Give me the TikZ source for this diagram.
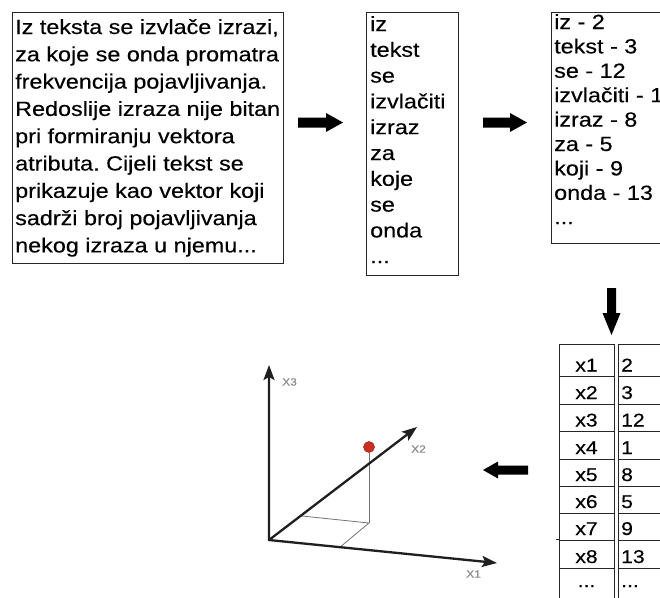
\documentclass[tikz,border=0pt]{standalone}
\usepackage{fontspec}
\setmainfont{Liberation Sans}[FakeStretch=1.14,FakeBold=0.3]
\usetikzlibrary{arrows.meta}
\definecolor{dotred}{RGB}{205,45,35}
\newcommand\tdots{.{}.{}.}
\frenchspacing
\tikzset{
  boxline/.style={draw=black!85, line width=0.9pt, fill=white, inner sep=0pt, anchor=north west},
  txt/.style={anchor=base west, inner sep=0pt, font=\fontsize{20.5}{24}\selectfont},
  celltxt/.style={inner sep=0pt, font=\fontsize{18.5}{20}\selectfont},
  cell/.style={draw=black!85, line width=0.8pt, inner sep=0pt, anchor=north west},
  blockarrow/.style={fill=black},
  axis/.style={line width=2.3pt, draw=black!88, line join=miter},
  axtip/.style={-{Stealth[length=15pt,width=11pt,inset=3pt]}},
  proj/.style={draw=black!55, line width=0.8pt},
  axlabel/.style={anchor=west, inner sep=0pt, text=black!45, font=\fontsize{10.5}{11}\selectfont},
}
\begin{document}
\begin{tikzpicture}[x=1pt,y=-1pt]
\useasboundingbox (0,0) rectangle (660,597);
\fill[white] (0,0) rectangle (660,597);
\clip (0,0) rectangle (660,597);

% box 1
\node[boxline, minimum width=271pt, minimum height=251pt] (b1) at (12,11.5) {};
\foreach \t [count=\i] in {{Iz teksta se izvlače izrazi,},{za koje se onda promatra},{frekvencija pojavljivanja.},{Redoslije izraza nije bitan},{pri formiranju vektora},{atributa. Cijeli tekst se},{prikazuje kao vektor koji},{sadrži broj pojavljivanja},{nekog izraza u njemu\tdots}}
  \node[txt] (t1-\i) at (15,{34+(\i-1)*27.3}) {\t};

% box 2
\node[boxline, minimum width=92pt, minimum height=263pt] (b2) at (366,12) {};
\foreach \t [count=\i] in {iz,tekst,se,izvlačiti,izraz,za,koje,se,onda,\tdots}
  \node[txt] (t2-\i) at (370,{31+(\i-1)*25.8}) {\t};

% box 3
\node[boxline, minimum width=130pt, minimum height=231pt] (b3) at (550.5,12) {};
\foreach \t [count=\i] in {iz - 2,tekst - 3,se - 12,izvlačiti - 1,izraz - 8,za - 5,koji - 9,onda - 13,\tdots}
  \node[txt] (t3-\i) at (554,{29+(\i-1)*24.4}) {\t};

% block arrows
\coordinate (a1) at (298,122.5);
\fill[blockarrow] (a1) ++(0,-5) -- ++(28,0) -- ++(0,-4.5) -- ++(17,9.5) -- ++(-17,9.5) -- ++(0,-4.5) -- ++(-28,0) -- cycle;
\coordinate (a2) at (483,122.5);
\fill[blockarrow] (a2) ++(0,-5) -- ++(27,0) -- ++(0,-4.5) -- ++(17,9.5) -- ++(-17,9.5) -- ++(0,-4.5) -- ++(-27,0) -- cycle;
\coordinate (a3) at (611.5,288);
\fill[blockarrow] (a3) ++(-4.5,0) -- ++(0,25) -- ++(-4.5,0) -- ++(9,22) -- ++(9,-22) -- ++(-4.5,0) -- ++(0,-25) -- cycle;
\coordinate (a4) at (528,470);
\fill[blockarrow] (a4) ++(0,-4.5) -- ++(-30,0) -- ++(0,-4) -- ++(-15,8.5) -- ++(15,8.5) -- ++(0,-4) -- ++(30,0) -- cycle;

% table
\foreach \ta/\tb [count=\i] in {344/376,376/403.5,403.5/431,431/458.5,458.5/485.5,485.5/512.5,512.5/539.5,539.5/567.5,567.5/620}{
  \node[cell, minimum width=55pt, minimum height={(\tb-\ta)*1pt}] (c1-\i) at (559,\ta) {};
  \node[cell, minimum width=62pt, minimum height={(\tb-\ta)*1pt}] (c2-\i) at (618,\ta) {};
}
\foreach \tb/\la/\va [count=\i] in {376/x1/2,403.5/x2/3,431/x3/12,458.5/x4/1,485.5/x5/8,512.5/x6/5,539.5/x7/9,567.5/x8/13,591.5/\tdots/\tdots}{
  \node[celltxt, anchor=base] (l-\i) at (586.5,{\tb-4.5}) {\la};
  \node[celltxt, anchor=base west] (v-\i) at (621,{\tb-4.5}) {\va};
}
\draw[draw=black!85, line width=0.8pt] (556,539.5) -- (c1-8.north west);

% 3D axes
\coordinate (O) at (269,540);
\coordinate (X3t) at (269,365);
\coordinate (X2t) at (417,427);
\coordinate (X1t) at (497,563);
\coordinate (Pf) at (369,523);
\coordinate (A2) at (302,516);
\coordinate (A1) at (339,548);
\draw[proj] (A2) -- (Pf) -- (A1);
\node[circle, fill=dotred, draw=dotred!70!black, line width=0.5pt, minimum size=11pt, inner sep=0pt] (P) at (369,447) {};
\draw[proj] (P) -- (Pf);
\draw[axis, {Stealth[length=15pt,width=11pt,inset=3pt]}-{Stealth[length=15pt,width=11pt,inset=3pt]}] (X3t) -- (O) -- (X1t);
\draw[axis, axtip] (O) -- (X2t);
\node[axlabel] (lx3) at (282,382) {X3};
\node[axlabel] (lx2) at (411,449) {X2};
\node[axlabel] (lx1) at (466,574) {X1};
\end{tikzpicture}
\end{document}
